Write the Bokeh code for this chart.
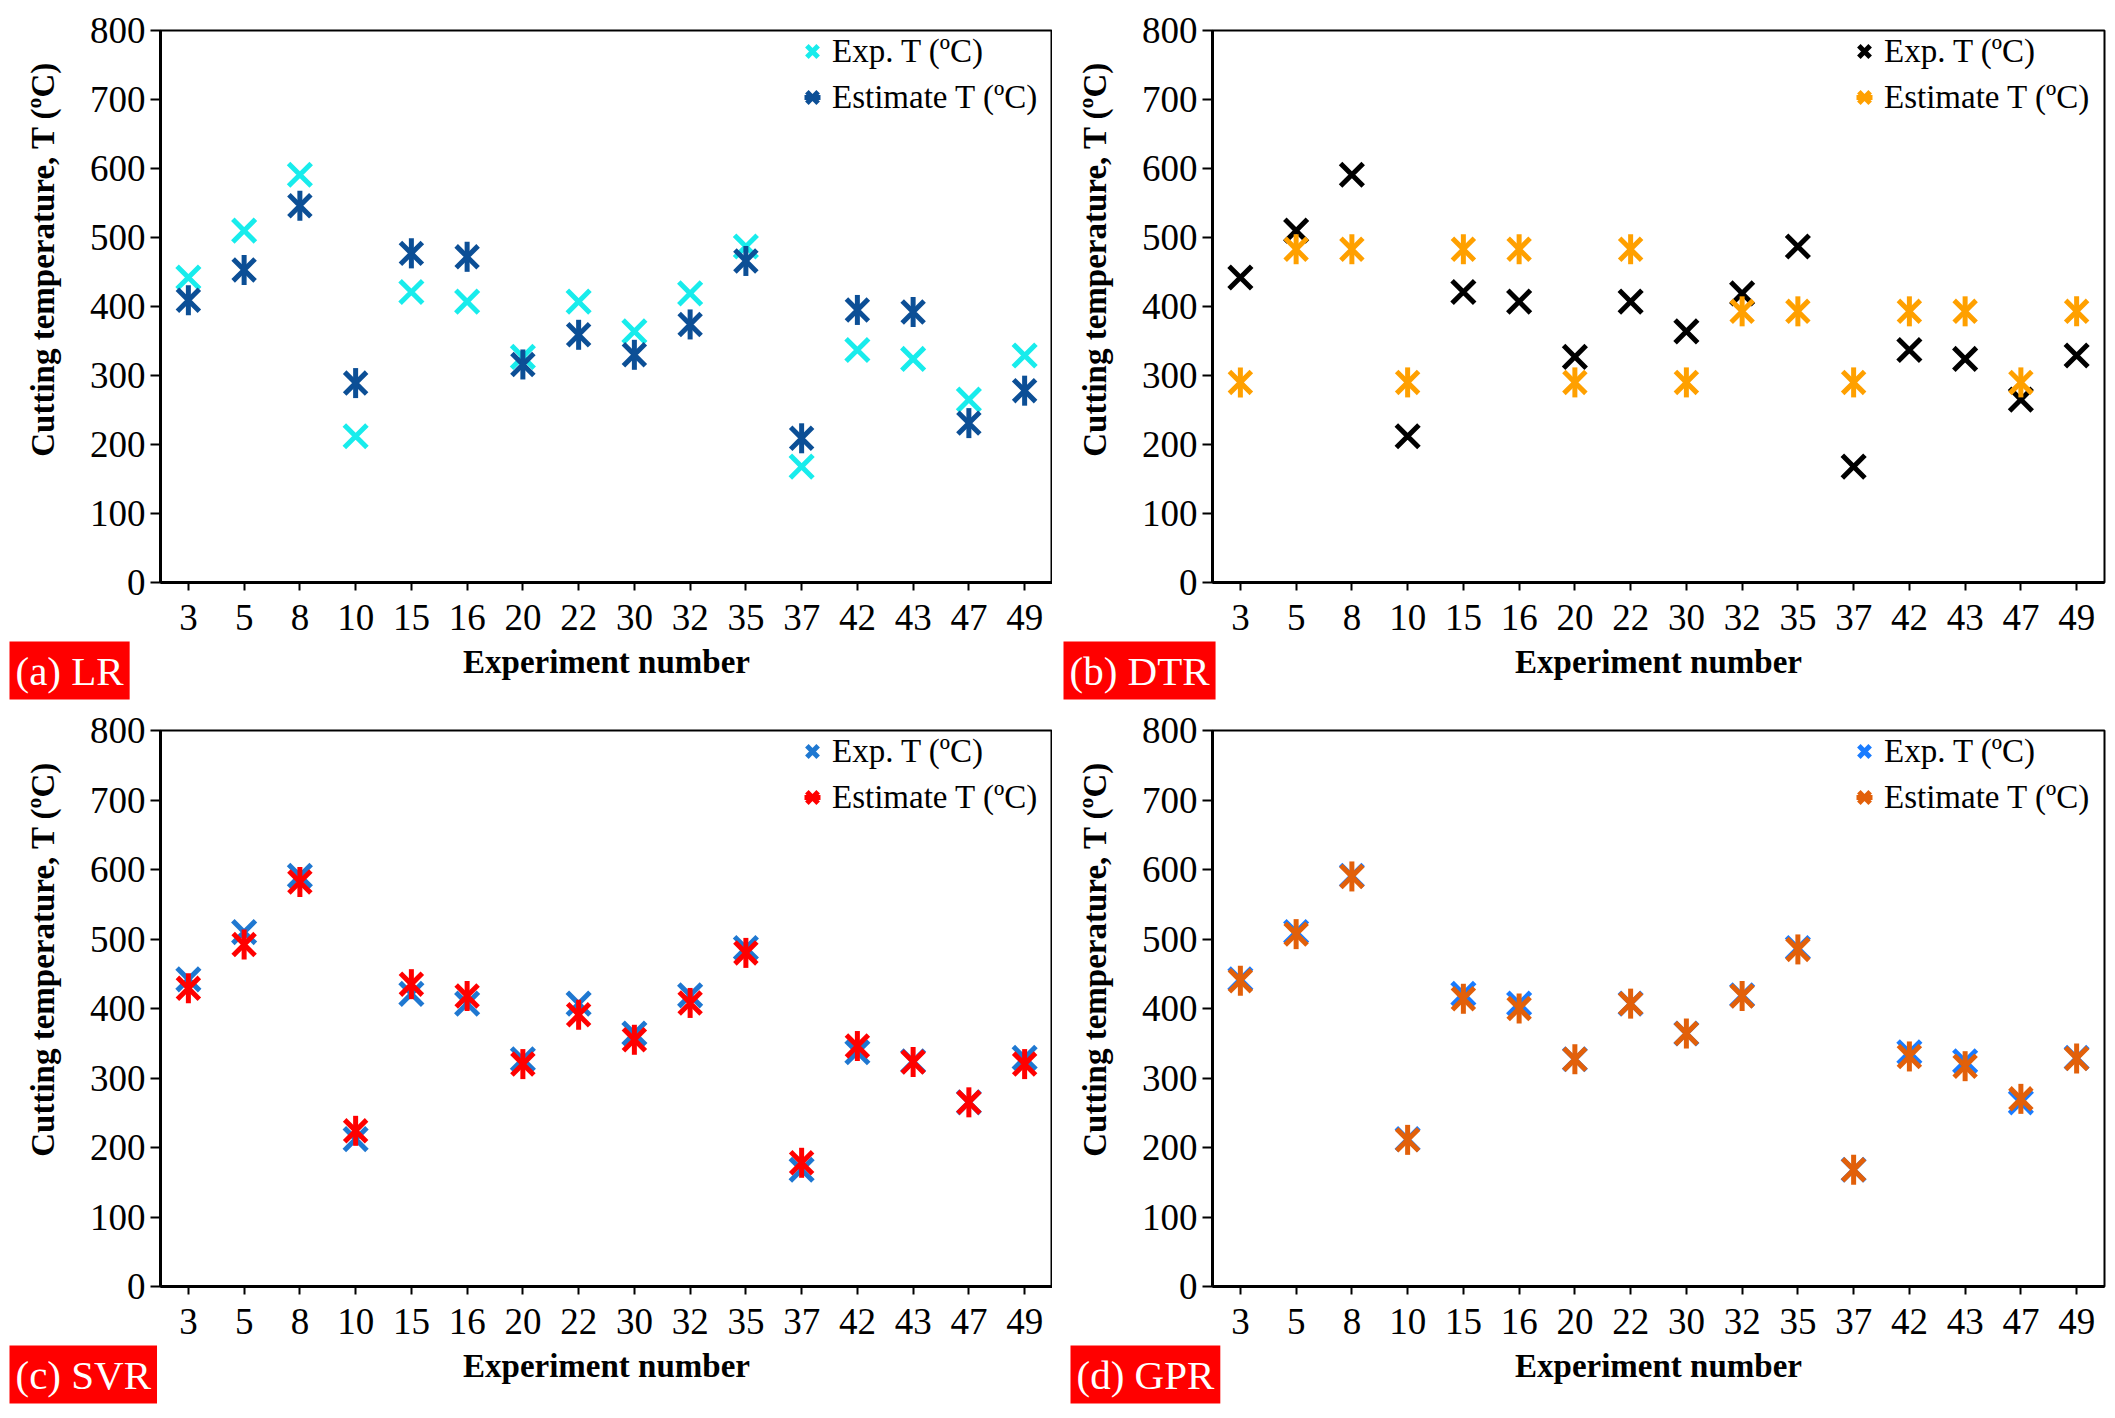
import numpy as np
from bokeh.plotting import figure
from bokeh.models import Range1d, FactorRange, Legend, LegendItem, ColumnDataSource, Title
from bokeh.layouts import gridplot
from bokeh.embed import file_html
from bokeh.resources import INLINE

# ---------------- data ----------------
experiments = ["3", "5", "8", "10", "15", "16", "20", "22", "30", "32", "35", "37", "42", "43", "47", "49"]
exp_T = [442, 510, 591, 212, 421, 407, 327, 407, 364, 419, 487, 168, 337, 324, 265, 329]
lr_T = [409, 453, 546, 289, 477, 472, 316, 359, 330, 374, 466, 209, 395, 392, 231, 278]
dtr_T = [290, 483, 483, 290, 483, 483, 290, 483, 290, 393, 393, 290, 393, 393, 290, 393]
svr_T = [429, 492, 582, 224, 435, 418, 320, 391, 355, 408, 480, 178, 346, 323, 265, 320]
gpr_T = [440, 507, 590, 211, 414, 400, 327, 407, 364, 418, 485, 168, 331, 317, 270, 328]

panel_names = ["(a) LR", "(b) DTR", "(c) SVR", "(d) GPR"]
estimates = [lr_T, dtr_T, svr_T, gpr_T]
exp_colors = ["#18ECEC", "#000000", "#1F78D1", "#1A7CFF"]
est_colors = ["#0C4F96", "#FFA000", "#FF0000", "#E2600A"]
y_ticks = [0, 100, 200, 300, 400, 500, 600, 700, 800]
legend_labels = ["Exp. T (ºC)", "Estimate T (ºC)"]
x_title = "Experiment number"
y_title = "Cutting temperature, T (ºC)"

FONT = "Liberation Serif"

# layout per panel: borders, frame height and tag offset (pixels)
layouts = [
    dict(left=160, right=0, top=30, bottom=126, fh=552, tag=-151),
    dict(left=157, right=10, top=30, bottom=126, fh=552, tag=-149),
    dict(left=160, right=0, top=22, bottom=126, fh=556, tag=-151),
    dict(left=157, right=10, top=22, bottom=126, fh=556, tag=-142),
]


def make_panel(name, est, exp_color, est_color, lay):
    src = ColumnDataSource(dict(x=experiments, exp=exp_T, est=est))
    p = figure(x_range=FactorRange(factors=experiments, range_padding=0),
               y_range=Range1d(0, 800),
               frame_width=892, frame_height=lay["fh"],
               min_border_left=lay["left"], min_border_right=lay["right"],
               min_border_top=lay["top"], min_border_bottom=lay["bottom"],
               output_backend="svg", toolbar_location=None, tools="")
    p.xgrid.visible = False
    p.ygrid.visible = False
    p.outline_line_color = "black"
    p.outline_line_width = 2
    p.background_fill_color = "white"
    p.border_fill_color = "white"

    xa = p.xaxis[0]
    xa.axis_line_width = 3
    xa.axis_line_color = "black"
    xa.major_tick_in = 0
    xa.major_tick_out = 8
    xa.major_tick_line_width = 2
    xa.major_label_text_font = FONT
    xa.major_label_text_font_size = "37px"
    xa.major_label_text_color = "black"
    xa.major_label_standoff = 14
    xa.axis_label = x_title
    xa.axis_label_text_font = FONT
    xa.axis_label_text_font_style = "bold"
    xa.axis_label_text_font_size = "33px"
    xa.axis_label_text_color = "black"
    xa.axis_label_standoff = 11

    ya = p.yaxis[0]
    ya.ticker = y_ticks
    ya.axis_line_width = 3
    ya.axis_line_color = "black"
    ya.major_tick_in = 0
    ya.major_tick_out = 10
    ya.major_tick_line_width = 2
    ya.minor_tick_line_color = None
    ya.major_label_text_font = FONT
    ya.major_label_text_font_size = "37px"
    ya.major_label_text_color = "black"
    ya.major_label_standoff = 5

    r1 = p.scatter("x", "exp", source=src, marker="x", size=32,
                   line_color=exp_color, line_width=5)
    r2 = p.scatter("x", "est", source=src, marker="x", size=31,
                   line_color=est_color, line_width=5)
    r3 = p.scatter("x", "est", source=src, marker="dash", angle=np.pi / 2, size=30,
                   line_color=est_color, line_width=5, fill_color=None)

    legend = Legend(items=[LegendItem(label=legend_labels[0], renderers=[r1]),
                           LegendItem(label=legend_labels[1], renderers=[r2, r3])],
                    location=(632, lay["fh"] - 90), padding=0, margin=0, spacing=0,
                    glyph_width=40, glyph_height=46, label_standoff=0,
                    label_height=46,
                    label_text_font=FONT, label_text_font_size="33px",
                    label_text_color="black",
                    background_fill_alpha=0, border_line_alpha=0)
    p.add_layout(legend)

    # y-axis title, shifted toward the top as in the original
    p.add_layout(Title(text=y_title, align="right", offset=31, vertical_align="top",
                       standoff=48, text_font=FONT, text_font_style="bold",
                       text_font_size="33px", text_color="black"), "left")
    # red panel tag at the bottom-left corner
    p.add_layout(Title(text=name, align="left", offset=lay["tag"], vertical_align="top",
                       standoff=-82, text_font=FONT, text_font_style="normal",
                       text_font_size="41px", text_color="white",
                       background_fill_color="#FF0000", padding=6), "below")
    return p


panels = [make_panel(n, e, ec, sc, lay) for n, e, ec, sc, lay in
          zip(panel_names, estimates, exp_colors, est_colors, layouts)]

grid = gridplot([[panels[0], panels[1]], [panels[2], panels[3]]], toolbar_location=None)

with open("out.html", "w") as f:
    f.write(file_html(grid, INLINE))
